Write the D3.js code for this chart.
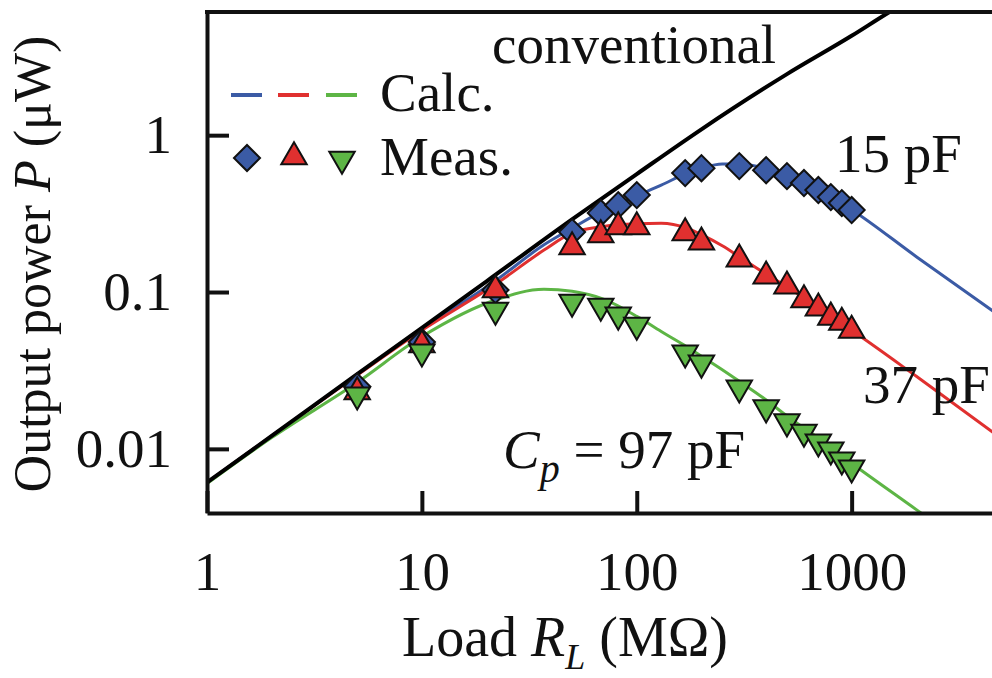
<!DOCTYPE html>
<html>
<head>
<meta charset="utf-8">
<script src="https://cdn.jsdelivr.net/npm/d3@7"></script>
<style>
    body { margin:0; background:#fff; }
    svg text { font-family:"Liberation Serif","Times New Roman",serif; fill:#111; }
</style>
</head>
<body>
<div id="chartCont"></div>
<script>
// measured load resistances (MOhm) and output power (uW)
var loadR = [5,10,22,50,68,82,100,168,200,300,400,500,600,700,800,900,1000];
var meas15 = [0.025,0.048,0.103,0.241,0.319,0.358,0.415,0.573,0.616,0.635,0.598,0.548,0.495,0.447,0.403,0.369,0.333];
var meas37 = [0.0231,0.046,0.103,0.194,0.231,0.26,0.26,0.238,0.208,0.162,0.126,0.109,0.089,0.079,0.069,0.064,0.057];
var meas97 = [0.0221,0.0415,0.0768,0.0863,0.0814,0.0714,0.0616,0.0409,0.0353,0.0245,0.0183,0.0149,0.0128,0.0111,0.00986,0.00851,0.00757];

// calculated curves
var calcR = [1,2,5,10,22,37,50,70,100,130,170,200,250,300,400,500,700,1000,2000,5000];
var calc15 = [0.0061,0.0121,0.0298,0.058,0.118,0.2,0.255,0.33,0.41,0.48,0.57,0.615,0.655,0.655,0.612,0.55,0.45,0.335,0.168,0.069];
var calc37 = [0.0061,0.0121,0.0295,0.057,0.112,0.185,0.238,0.262,0.272,0.274,0.256,0.232,0.197,0.168,0.13,0.108,0.079,0.057,0.029,0.0116];
var calc97 = [0.006,0.0118,0.0265,0.052,0.089,0.104,0.101,0.09,0.07,0.056,0.045,0.039,0.032,0.027,0.0205,0.0162,0.0117,0.0081,0.0041,0.00165];

var convR = [1,2,5,10,20,50,100,200,500,1000,1500,2000];
var convP = [0.0061,0.0121,0.03,0.059,0.117,0.29,0.565,1.09,2.45,4.3,6.1,7.7];

var xTicks = [1,10,100,1000];
var xTickLabels = ['1','10','100','1000'];
var yTicks = [0.01,0.1,1];
var yTickLabels = ['0.01','0.1','1'];

var colors = {c15:'#3b5ba5', c37:'#e0302f', c97:'#5db545'};

var W = 992, H = 678;
var plot = {left:207, right:992, top:12, bottom:513};
var fs = 55;

var x = d3.scaleLog().domain([1,4500]).range([plot.left,plot.right]);
var y = d3.scaleLog().domain([0.0039,6.1]).range([plot.bottom,plot.top]);

var svg = d3.select('#chartCont').append('svg')
    .attr('width',W).attr('height',H);

svg.append('defs').append('clipPath').attr('id','plotClip')
    .append('rect')
    .attr('x',plot.left).attr('y',plot.top)
    .attr('width',plot.right - plot.left).attr('height',plot.bottom - plot.top);

var line = d3.line()
    .x(function(d) { return x(d[0]); })
    .y(function(d) { return y(d[1]); })
    .curve(d3.curveMonotoneX);

function zip(a,b) { return a.map(function(v,i) { return [v,b[i]]; }); }

var lines = svg.append('g').attr('clip-path','url(#plotClip)');
[[calc15,colors.c15],[calc37,colors.c37],[calc97,colors.c97]].forEach(function(s) {
    lines.append('path')
        .datum(zip(calcR,s[0]))
        .attr('fill','none')
        .attr('stroke',s[1])
        .attr('stroke-width',3)
        .attr('d',line);
});
lines.append('path')
    .datum(zip(convR,convP))
    .attr('fill','none')
    .attr('stroke','#000')
    .attr('stroke-width',4)
    .attr('d',line);

// markers
var diamond = d3.symbol().type(d3.symbolSquare).size(340);
var tri = d3.symbol().type(d3.symbolTriangle).size(280);

function drawMarkers(vals, path, fill, rot) {
    svg.append('g').selectAll('path')
        .data(zip(loadR,vals))
        .enter().append('path')
        .attr('d',path)
        .attr('fill',fill)
        .attr('stroke','#111')
        .attr('stroke-width',2)
        .attr('transform',function(d) {
            return 'translate(' + x(d[0]) + ',' + y(d[1]) + ') rotate(' + rot + ')';
        });
}
drawMarkers(meas15, diamond, colors.c15, 45);
drawMarkers(meas37, tri, colors.c37, 0);
drawMarkers(meas97, tri, colors.c97, 180);

// axes, ticks pointing inward
var xAxis = svg.append('g')
    .attr('transform','translate(0,' + plot.bottom + ')')
    .call(d3.axisBottom(x).tickValues(xTicks).tickSize(-22).tickSizeOuter(0).tickPadding(38)
        .tickFormat(function(d,i) { return xTickLabels[i]; }));
var yAxis = svg.append('g')
    .attr('transform','translate(' + plot.left + ',0)')
    .call(d3.axisLeft(y).tickValues(yTicks).tickSize(-22).tickSizeOuter(0).tickPadding(35)
        .tickFormat(function(d,i) { return yTickLabels[i]; }));
[xAxis,yAxis].forEach(function(a) {
    a.select('.domain').attr('stroke','#111').attr('stroke-width',4);
    a.selectAll('.tick line').attr('stroke','#111').attr('stroke-width',4);
    a.selectAll('.tick text').attr('font-size',fs).attr('font-family','Liberation Serif').attr('fill','#111');
});
svg.append('line')
    .attr('x1',plot.left - 2).attr('x2',plot.right)
    .attr('y1',plot.top).attr('y2',plot.top)
    .attr('stroke','#111').attr('stroke-width',4);

// legend
var legendLines = [[231,colors.c15],[278,colors.c37],[326,colors.c97]];
legendLines.forEach(function(l) {
    svg.append('line')
        .attr('x1',l[0]).attr('x2',l[0] + 31)
        .attr('y1',95).attr('y2',95)
        .attr('stroke',l[1]).attr('stroke-width',4);
});
svg.append('path').attr('d',diamond).attr('fill',colors.c15).attr('stroke','#111').attr('stroke-width',2)
    .attr('transform','translate(247,158) rotate(45)');
svg.append('path').attr('d',tri).attr('fill',colors.c37).attr('stroke','#111').attr('stroke-width',2)
    .attr('transform','translate(294,157)');
svg.append('path').attr('d',tri).attr('fill',colors.c97).attr('stroke','#111').attr('stroke-width',2)
    .attr('transform','translate(342,159) rotate(180)');

function label(txt, px, py) {
    return svg.append('text').attr('x',px).attr('y',py).attr('font-size',fs).text(txt);
}
label('Calc.',380,111);
label('Meas.',380,175);
label('conventional',492,63);
label('15 pF',835,172);
label('37 pF',863,403);

var cp = svg.append('text').attr('x',503).attr('y',468).attr('font-size',fs);
cp.append('tspan').attr('font-style','italic').text('C');
cp.append('tspan').attr('font-style','italic').attr('font-size',40).attr('dy',14).text('p');
cp.append('tspan').attr('dy',-14).text(' = 97 pF');

// axis titles
var xt = svg.append('text').attr('x',402).attr('y',656).attr('font-size',56);
xt.append('tspan').text('Load ');
xt.append('tspan').attr('font-style','italic').text('R');
xt.append('tspan').attr('font-style','italic').attr('font-size',36).attr('dy',13).text('L');
xt.append('tspan').attr('dy',-13).text(' (MΩ)');

var yt = svg.append('text')
    .attr('transform','translate(50,264) rotate(-90)')
    .attr('text-anchor','middle')
    .attr('font-size',52);
yt.append('tspan').text('Output power ');
yt.append('tspan').attr('font-style','italic').text('P');
yt.append('tspan').text(' (μW)');
</script>
</body>
</html>
